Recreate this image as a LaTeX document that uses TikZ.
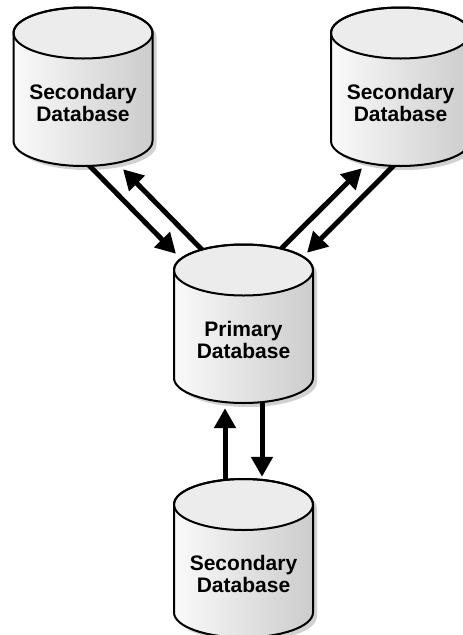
\documentclass[tikz,border=0pt]{standalone}
\usepackage{fontspec}
\setmainfont{Liberation Sans}
\usetikzlibrary{backgrounds, arrows.meta}

\definecolor{dbend}{gray}{0.925}
\definecolor{dbleft}{gray}{0.98}
\definecolor{dbright}{gray}{0.80}

\tikzset{
    dbbox/.style={minimum width=139pt, minimum height=159pt, inner sep=0pt},
    dbtext/.style={align=center, yshift=-16pt, font=\fontsize{21}{22}\selectfont\bfseries},
    dbedge/.style={line width=2pt, line join=round},
    dbshadow/.style={fill=black!18},
    arrow/.style={-{Triangle[width=21pt, length=20pt]}, line width=5pt}
}

% database cylinder: name, centre x, centre y, text
\newcommand{\dbase}[4]{
    \begin{scope}[shift={(#2, #3)}]
        \def\dbbody{(-69.5, -53.5) -- (-69.5, 54.5) arc[start angle=180, end angle=360, x radius=69.5pt, y radius=25pt]
            -- (69.5, -53.5) arc[start angle=0, end angle=180, x radius=69.5pt, y radius=25.5pt] -- cycle}
        \begin{pgfonlayer}{background}
            \fill[dbshadow, xshift=4pt, yshift=-4pt] \dbbody;
        \end{pgfonlayer}
        \shade[left color=dbleft, right color=dbright] \dbbody;
        \fill[dbend] (0, -53.5) ellipse (69.5pt and 25.5pt);
        \draw[dbedge] \dbbody;
        \draw[dbedge] (0, -53.5) ellipse (69.5pt and 25.5pt);
    \end{scope}
    \node[dbbox, label={[dbtext]center:{#4}}] (#1) at (#2, #3) {};
}

\begin{document}
\begin{tikzpicture}[x=1pt, y=-1pt]
\useasboundingbox (0, 0) rectangle (463, 635);

% Databases
\dbase{dbleft}{83}{86.5}{Secondary\\Database}
\dbase{dbright}{400.5}{86.5}{Secondary\\Database}
\dbase{dbprim}{243.5}{323.5}{Primary\\Database}
\dbase{dblow}{243.5}{558}{Secondary\\Database}

\begin{pgfonlayer}{background}
% Top left pair
\draw[arrow] ([xshift=5pt, yshift=2pt]dbleft.south) -- ([xshift=-67.5pt, yshift=-10pt]dbprim.north);
\draw[arrow] ([xshift=-37.5pt, yshift=-10pt]dbprim.north) -- ([xshift=40pt, yshift=-3pt]dbleft.south);

% Top right pair
\draw[arrow] ([xshift=33.5pt, yshift=-9pt]dbprim.north) -- ([xshift=-38.5pt, yshift=-2pt]dbright.south);
\draw[arrow] ([xshift=-5.5pt, yshift=2pt]dbright.south) -- ([xshift=63.5pt, yshift=-9pt]dbprim.north);

% Bottom pair
\draw[arrow] ([xshift=-18.5pt, yshift=-6.5pt]dblow.north) -- ([xshift=-18.5pt, yshift=-5pt]dbprim.south);
\draw[arrow] ([xshift=18.5pt, yshift=5pt]dbprim.south) -- ([xshift=18.5pt, yshift=1.5pt]dblow.north);
\end{pgfonlayer}

\end{tikzpicture}
\end{document}
